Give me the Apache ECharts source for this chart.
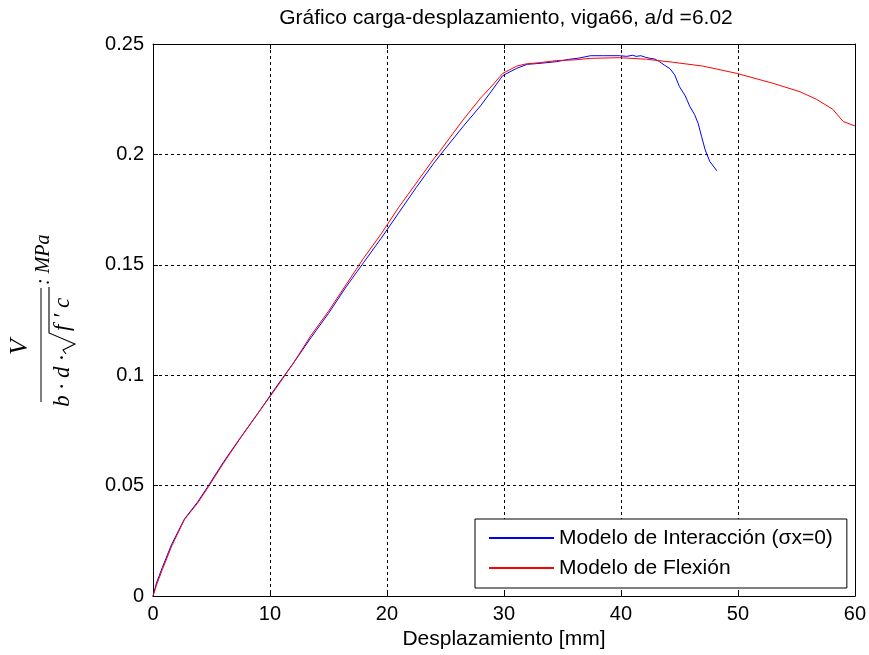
<!DOCTYPE html>
<html><head><meta charset="utf-8">
<script src="https://cdn.jsdelivr.net/npm/echarts@6/dist/echarts.min.js"></script>
<style>html,body{margin:0;padding:0;background:#fff}#c{width:869px;height:655px}</style>
</head><body><div id="c"></div>
<script>
var titleText = 'Gráfico carga-desplazamiento, viga66, a/d =6.02';
var xName = 'Desplazamiento [mm]';
var seriesNames = ['Modelo de Interacción (σx=0)', 'Modelo de Flexión'];
var xTicks = [0, 10, 20, 30, 40, 50, 60];
var yTicks = [0, 0.05, 0.1, 0.15, 0.2, 0.25];

var xInter = [0, 0.3, 0.8, 1.6, 2.7, 3.8, 4.8, 6, 7.4, 9, 10.5, 12, 13.5, 15, 16.5, 18, 19.5, 21, 22.5, 24, 24.5, 26.5, 28, 28.8, 29.9, 31.1, 32, 33, 34.5, 35.5, 36.5, 37.4, 38.5, 39.9, 40.5, 41.0, 41.3, 41.7, 42.1, 42.5, 42.9, 43.3, 43.7, 44.2, 44.6, 45.0, 45.5, 45.9, 46.3, 46.6, 46.9, 47.2, 47.6, 48.2];
var yInter = [0, 0.006, 0.013, 0.0235, 0.035, 0.0425, 0.0505, 0.0605, 0.0712, 0.083, 0.0945, 0.1055, 0.117, 0.128, 0.140, 0.151, 0.162, 0.1735, 0.185, 0.196, 0.1994, 0.2126, 0.222, 0.2277, 0.2357, 0.239, 0.2408, 0.2412, 0.242, 0.2430, 0.2437, 0.2447, 0.2447, 0.2447, 0.2444, 0.2449, 0.2444, 0.2447, 0.2440, 0.2435, 0.2432, 0.2420, 0.2405, 0.2388, 0.2360, 0.2307, 0.2265, 0.2216, 0.2180, 0.2141, 0.2080, 0.2021, 0.1968, 0.1926];

var xFlex = [0, 0.3, 0.8, 1.6, 2.7, 3.8, 4.8, 6, 7.4, 9, 10.5, 12, 13.5, 15, 16.5, 18, 19.5, 21, 22.5, 24, 24.5, 26.5, 28, 28.8, 29.9, 31.1, 31.9, 33, 34.5, 36, 37.4, 39.9, 42.2, 44.5, 47.0, 49.9, 53.0, 55.3, 56.7, 58.1, 59.0, 60];
var yFlex = [0, 0.005, 0.012, 0.0227, 0.0348, 0.042, 0.050, 0.060, 0.071, 0.083, 0.094, 0.1055, 0.118, 0.129, 0.141, 0.153, 0.164, 0.176, 0.187, 0.198, 0.2013, 0.2156, 0.2255, 0.230, 0.2367, 0.240, 0.241, 0.2415, 0.2425, 0.2428, 0.2435, 0.2438, 0.2431, 0.2417, 0.240, 0.2367, 0.2322, 0.2284, 0.225, 0.2205, 0.2149, 0.2129];

function pairs(xs, ys) { return xs.map(function (x, i) { return [x, ys[i]]; }); }

var SANS = 'Liberation Sans, Arial, sans-serif';
var SERIF = 'Liberation Serif, Times New Roman, serif';

var chart = echarts.init(document.getElementById('c'), null, {renderer: 'canvas'});

function xAxisBase(extra) {
  return Object.assign({
    type: 'value', min: xTicks[0], max: xTicks[xTicks.length - 1], interval: 10,
    axisLine: {show: true, onZero: false, lineStyle: {color: '#000', width: 1}},
    axisTick: {show: true, inside: true, length: 5, lineStyle: {color: '#000'}},
    splitLine: {show: false}
  }, extra);
}
function yAxisBase(extra) {
  return Object.assign({
    type: 'value', min: yTicks[0], max: yTicks[yTicks.length - 1], interval: 0.05,
    axisLine: {show: true, onZero: false, lineStyle: {color: '#000', width: 1}},
    axisTick: {show: true, inside: true, length: 5, lineStyle: {color: '#000'}},
    splitLine: {show: false}
  }, extra);
}

var option = {
  animation: false,
  backgroundColor: '#fff',
  grid: {left: 153, right: 14, top: 44, bottom: 58, containLabel: false, show: false},
  xAxis: [
    xAxisBase({
      position: 'bottom',
      axisLabel: {color: '#000', fontSize: 20, fontFamily: SANS, margin: 8},
      splitLine: {show: true, lineStyle: {color: '#000', width: 1, type: [3, 3]}},
      name: xName, nameLocation: 'middle', nameGap: 30,
      nameTextStyle: {color: '#000', fontSize: 21, fontFamily: SANS}
    }),
    xAxisBase({position: 'top', axisLabel: {show: false}})
  ],
  yAxis: [
    yAxisBase({
      position: 'left',
      axisLabel: {color: '#000', fontSize: 20, fontFamily: SANS, margin: 9},
      splitLine: {show: true, lineStyle: {color: '#000', width: 1, type: [3, 3]}}
    }),
    yAxisBase({position: 'right', axisLabel: {show: false}})
  ],
  legend: {
    orient: 'vertical', left: 475, top: 519,
    padding: [8, 14, 9, 13],
    itemWidth: 65, itemHeight: 22, itemGap: 8,
    backgroundColor: '#fff', borderColor: '#000', borderWidth: 1, borderRadius: 0,
    itemStyle: {opacity: 0},
    textStyle: {color: '#000', fontSize: 21, fontFamily: SANS, lineHeight: 22},
    data: seriesNames
  },
  series: [
    {name: seriesNames[0], type: 'line', data: pairs(xInter, yInter), symbol: 'none', showSymbol: false,
     lineStyle: {color: '#0000ff', width: 1}, itemStyle: {color: '#0000ff'}, z: 3},
    {name: seriesNames[1], type: 'line', data: pairs(xFlex, yFlex), symbol: 'none', showSymbol: false,
     lineStyle: {color: '#ff0000', width: 1}, itemStyle: {color: '#ff0000'}, z: 4}
  ],
  graphic: [
    {type: 'text', x: 506, y: 18, style: {text: titleText, fill: '#000', fontSize: 21, fontFamily: SANS,
      align: 'center', verticalAlign: 'middle', textAlign: 'center', textVerticalAlign: 'middle'}},
    {type: 'group', x: 41, y: 345, rotation: Math.PI / 2, children: [
      {type: 'line', shape: {x1: -57, y1: 0, x2: 57, y2: 0}, style: {stroke: '#000', lineWidth: 1}},
      {type: 'text', x: -2, y: -21, style: {text: 'V', fill: '#000', fontSize: 26, fontStyle: 'italic', fontFamily: SERIF,
        align: 'center', verticalAlign: 'middle', textAlign: 'center', textVerticalAlign: 'middle'}},
      {type: 'text', x: -10, y: 22, style: {text: 'b · d ·', fill: '#000', fontSize: 23, fontStyle: 'italic', fontFamily: SERIF,
        align: 'right', verticalAlign: 'middle', textAlign: 'right', textVerticalAlign: 'middle'}},
      {type: 'polyline', shape: {points: [[-9, 25], [-5, 22], [1, 34], [12, 8], [58, 8]]}, style: {stroke: '#000', lineWidth: 1.1, fill: null}},
      {type: 'text', x: 14, y: 22, style: {text: 'f \u2032 c', fill: '#000', fontSize: 23, fontStyle: 'italic', fontFamily: SERIF,
        align: 'left', verticalAlign: 'middle', textAlign: 'left', textVerticalAlign: 'middle'}},
      {type: 'text', x: 60, y: 3, style: {text: ': MPa', fill: '#000', fontSize: 20, fontStyle: 'italic', fontFamily: SERIF,
        align: 'left', verticalAlign: 'middle', textAlign: 'left', textVerticalAlign: 'middle'}}
    ]}
  ]
};
chart.setOption(option);
</script>
</body></html>
